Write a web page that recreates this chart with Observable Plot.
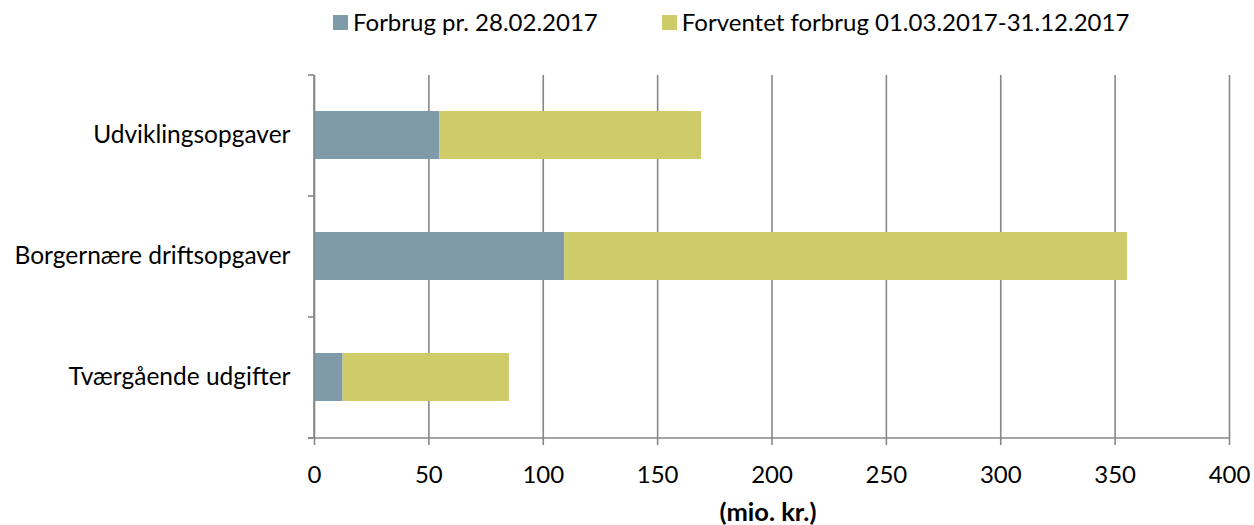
<!DOCTYPE html>
<html>
<head>
<meta charset="utf-8">
<script src="https://cdn.jsdelivr.net/npm/d3@7"></script>
<script src="https://cdn.jsdelivr.net/npm/@observablehq/plot@0.6"></script>
<style>
  html, body { margin: 0; padding: 0; background: #fff; }
  body { width: 1254px; height: 525px; position: relative; overflow: hidden; font-family: Lato, "Open Sans", sans-serif; }
  #legend { position: absolute; top: 6px; left: 333px; display: flex; align-items: center; font-size: 24px; color: #000; z-index: 2; line-height: 32px; }
  .item { display: flex; align-items: center; margin-right: 64px; }
  .sw { width: 15px; height: 15px; margin-right: 5px; }
  #chart { position: absolute; left: 0; top: 0; z-index: 1; }
</style>
</head>
<body>
<div id="legend"></div>
<div id="chart"></div>
<script>
const categories = ["Udviklingsopgaver", "Borgernære driftsopgaver", "Tværgående udgifter"];
const seriesNames = ["Forbrug pr. 28.02.2017", "Forventet forbrug 01.03.2017-31.12.2017"];
const forbrug = [54.7, 109.4, 12.5];
const forventet = [114.5, 246.0, 72.7];
const xTicks = [0, 50, 100, 150, 200, 250, 300, 350, 400];
const seriesColors = ["#7f9ba9", "#cdcc68"];
const axisTitle = "(mio. kr.)";

const rows = [];
categories.forEach((c, i) => {
  rows.push({cat: c, series: seriesNames[0], value: forbrug[i]});
  rows.push({cat: c, series: seriesNames[1], value: forventet[i]});
});

const legend = document.getElementById("legend");
seriesNames.forEach((s, i) => {
  const it = document.createElement("div");
  it.className = "item";
  const sw = document.createElement("div");
  sw.className = "sw";
  sw.style.background = seriesColors[i];
  const t = document.createElement("span");
  t.textContent = s;
  it.appendChild(sw); it.appendChild(t);
  legend.appendChild(it);
});

const gray = "#878787";

const axesMark = (index, scales, values, dims) => {
  const ns = "http://www.w3.org/2000/svg";
  const g = document.createElementNS(ns, "g");
  const top = dims.marginTop, bottom = dims.height - dims.marginBottom;
  const left = dims.marginLeft, right = dims.width - dims.marginRight;
  const line = (x1, y1, x2, y2) => {
    const l = document.createElementNS(ns, "line");
    l.setAttribute("x1", x1); l.setAttribute("y1", y1);
    l.setAttribute("x2", x2); l.setAttribute("y2", y2);
    l.setAttribute("stroke", gray); l.setAttribute("stroke-width", 1.6);
    g.appendChild(l);
  };
  const x0 = scales.x(0);
  line(x0, top, x0, bottom);
  line(left - 6, bottom, right, bottom);
  const n = categories.length;
  for (let i = 0; i <= n; i++) {
    const y = top + i * (bottom - top) / n;
    line(left - 6, y, left, y);
  }
  return g;
};

const chart = Plot.plot({
  width: 1254,
  height: 525,
  marginTop: 75,
  marginBottom: 87,
  marginLeft: 314,
  marginRight: 25,
  style: {fontFamily: "Lato, 'Open Sans', sans-serif", fontSize: "24px", color: "#000", background: "transparent"},
  x: {domain: [0, 400]},
  y: {domain: categories, paddingInner: 0.6, paddingOuter: 0.3},
  color: {domain: seriesNames, range: seriesColors},
  marks: [
    Plot.gridX(xTicks, {stroke: gray, strokeOpacity: 1, strokeWidth: 1.6}),
    Plot.barX(rows, {y: "cat", x: "value", fill: "series", order: seriesNames}),
    Plot.axisX(xTicks, {tickSize: 7, tickPadding: 20, stroke: gray, strokeWidth: 1.6, strokeOpacity: 1, fill: "#000", label: null, fontSize: 24, tickFormat: d => String(d)}),
    Plot.axisY({tickSize: 0, tickPadding: 24, label: null, fill: "#000", fontSize: 24.5}),
    axesMark,
    Plot.text([axisTitle], {frameAnchor: "bottom", dy: 82, dx: -4, fontWeight: "bold", fontSize: 25.5, fill: "#000"})
  ]
});
document.getElementById("chart").appendChild(chart);
</script>
</body>
</html>
